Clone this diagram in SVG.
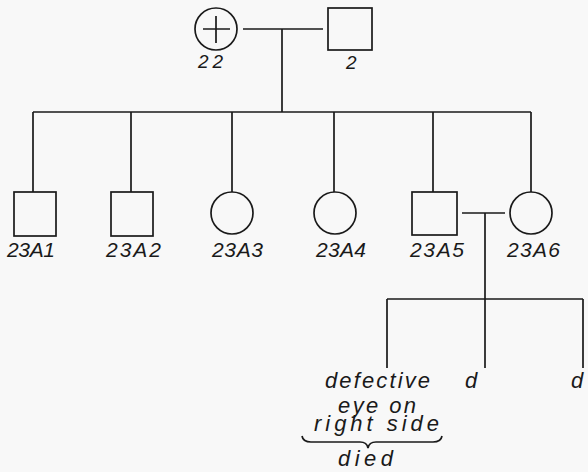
<svg xmlns="http://www.w3.org/2000/svg" width="588" height="472" viewBox="0 0 588 472">
<style>
.s{fill:none;stroke:#1a1a1a;stroke-width:1.7}
.t{font-family:"Liberation Sans",Arial,sans-serif;font-style:italic;fill:#1a1a1a}
.lb{font-size:21px}
.tp{font-size:19px}
.n{font-size:22px}
</style>
<rect width="588" height="472" fill="#f8f8f8"/>
<g id="connectors" class="s">
<path d="M243,29 H323"/>
<path d="M282,29 V112"/>
<path d="M33,112 H531"/>
<path d="M33,112 V192 M131,112 V192 M232,112 V192 M334,112 V192 M433,112 V192 M531,112 V192"/>
<path d="M462,213 H505"/>
<path d="M485,213 V368"/>
<path d="M387,299 H583"/>
<path d="M387,299 V368 M583,299 V368"/>
</g>
<g id="n22"><circle class="s" cx="216" cy="29" r="21"/><path class="s" d="M203,29 H230 M216,16 V43"/><text class="t tp" x="198" y="68" textLength="25" lengthAdjust="spacing">22</text></g>
<g id="n2"><rect class="s" x="328" y="8" width="44" height="42"/><text class="t tp" x="346" y="69">2</text></g>
<g id="n23A1"><rect class="s" x="14" y="192" width="42" height="44"/><text class="t lb" x="7" y="257" textLength="48" lengthAdjust="spacing">23A1</text></g>
<g id="n23A2"><rect class="s" x="111" y="192" width="42" height="44"/><text class="t lb" x="106" y="257" textLength="55" lengthAdjust="spacing">23A2</text></g>
<g id="n23A3"><circle class="s" cx="232" cy="213" r="21"/><text class="t lb" x="212" y="257" textLength="51" lengthAdjust="spacing">23A3</text></g>
<g id="n23A4"><circle class="s" cx="335" cy="213" r="21"/><text class="t lb" x="316" y="257" textLength="50" lengthAdjust="spacing">23A4</text></g>
<g id="n23A5"><rect class="s" x="412" y="192" width="45" height="43"/><text class="t lb" x="410" y="257" textLength="54" lengthAdjust="spacing">23A5</text></g>
<g id="n23A6"><circle class="s" cx="531" cy="213" r="21"/><text class="t lb" x="507" y="257" textLength="53" lengthAdjust="spacing">23A6</text></g>
<g id="c1">
<text class="t n" x="325" y="388" textLength="105" lengthAdjust="spacing">defective</text>
<text class="t n" x="338" y="413" textLength="78" lengthAdjust="spacing">eye on</text>
<text class="t n" x="314" y="431" textLength="125" lengthAdjust="spacing">right side</text>
<path class="s" d="M302,436 Q303,442 311,442 H360 Q367,442 368,448 Q369,442 376,442 H433 Q441,442 442,436"/>
<text class="t n" x="338" y="466" textLength="55" lengthAdjust="spacing">died</text>
</g>
<g id="c2"><text class="t n" x="465" y="388">d</text></g>
<g id="c3"><text class="t n" x="571" y="388">d</text></g>
</svg>
